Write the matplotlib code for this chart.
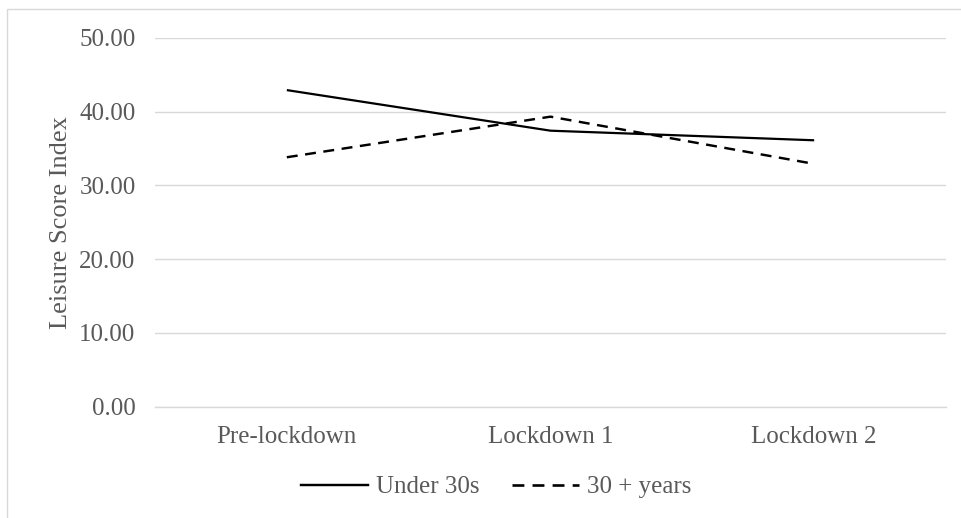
import matplotlib

matplotlib.use("Agg")
import matplotlib.pyplot as plt
from matplotlib.lines import Line2D
from matplotlib.patches import Rectangle

# data
periods = ["Pre-lockdown", "Lockdown 1", "Lockdown 2"]
under_30s = [42.9, 37.4, 36.1]
over_30s = [33.8, 39.3, 32.9]
y_ticks = [0, 10, 20, 30, 40, 50]

TEXT_GRAY = "#595959"
GRID_GRAY = "#D9D9D9"
DASH = (0, (4.5, 3.1))

plt.rcParams["font.family"] = ["Liberation Serif", "DejaVu Serif"]

fig = plt.figure(figsize=(9.61, 5.18), dpi=100)
ax = fig.add_axes([155 / 961, 1 - 406.7 / 518, (946 - 155) / 961, (406.7 - 37.7) / 518])

x = range(len(periods))
ax.plot(x, under_30s, color="black", linewidth=1.6, solid_capstyle="butt", label="Under 30s")
ax.plot(x, over_30s, color="black", linewidth=1.75, linestyle=DASH,
        dash_capstyle="butt", label="30 + years")

ax.set_xlim(-0.5, len(periods) - 0.5)
ax.set_ylim(0, 50)
ax.set_yticks(y_ticks)
ax.set_yticklabels([f"{v:.2f}" for v in y_ticks])
ax.set_xticks(list(x))
ax.set_xticklabels(periods)

ax.yaxis.grid(True, color=GRID_GRAY, linewidth=1.0)
ax.set_axisbelow(True)
for side in ["top", "right", "left"]:
    ax.spines[side].set_visible(False)
ax.spines["bottom"].set_color(GRID_GRAY)
ax.spines["bottom"].set_linewidth(1.0)

ax.tick_params(axis="both", length=0, labelsize=18, labelcolor=TEXT_GRAY)
ax.tick_params(axis="y", pad=14)
ax.tick_params(axis="x", pad=14)
ax.set_ylabel("Leisure Score Index", fontsize=19, color=TEXT_GRAY, labelpad=5)

handles = [
    Line2D([0], [0], color="black", linewidth=1.75),
    Line2D([0], [0], color="black", linewidth=1.9, linestyle=DASH, dash_capstyle="butt"),
]
fig.legend(handles, ["Under 30s", "30 + years"], loc="center", bbox_to_anchor=(496 / 961, 1 - 487 / 518),
           ncol=2, frameon=False, fontsize=18, handlelength=2.7, handletextpad=0.3, columnspacing=1.3,
           labelcolor=TEXT_GRAY)

# chart area border (cropped on right and bottom in the reference)
fig.patches.append(Rectangle((7 / 961, -0.1), 1.2, 1 - 9 / 518 + 0.1, transform=fig.transFigure,
                             fill=False, edgecolor=GRID_GRAY, linewidth=1.0))

fig.savefig("out.png", dpi=100)
